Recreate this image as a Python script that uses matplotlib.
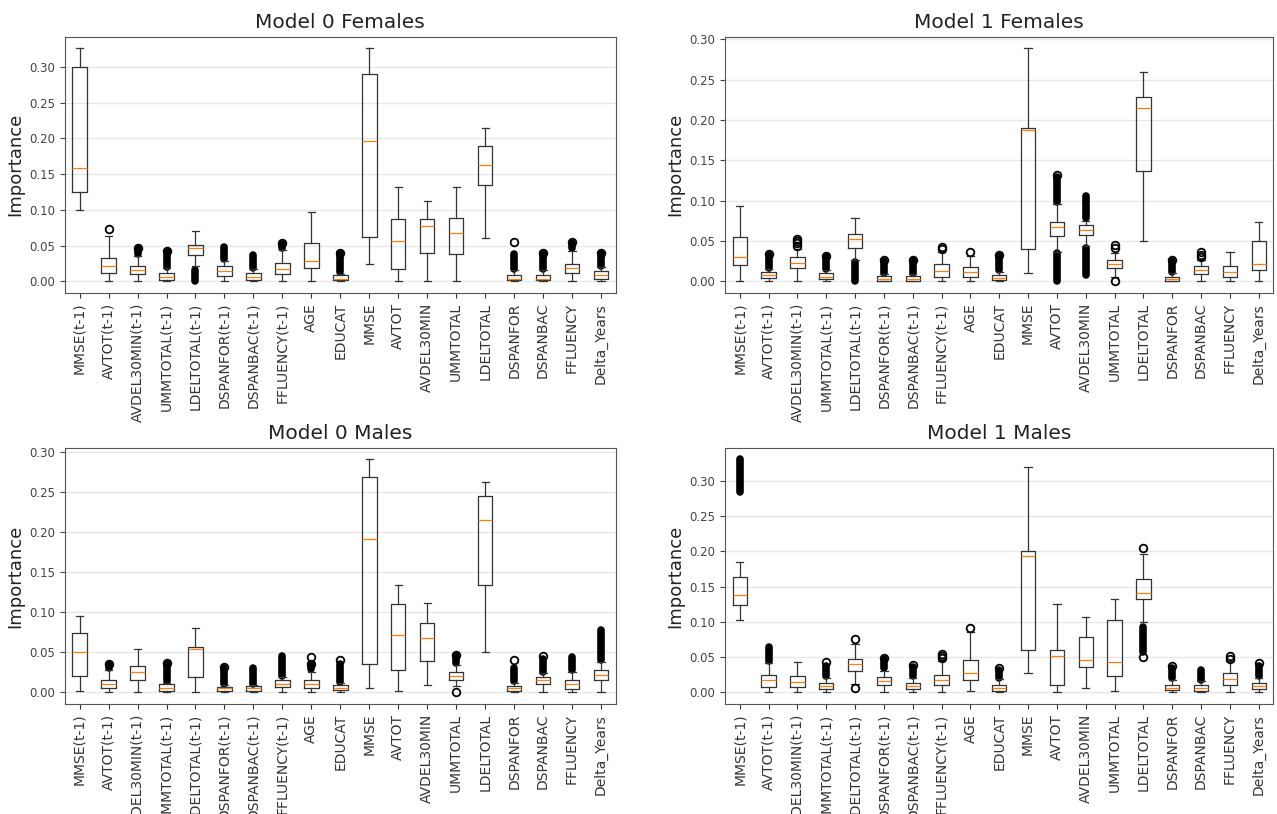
import matplotlib
matplotlib.use("Agg")
import matplotlib.pyplot as plt

# feature importance boxplots, 4 panels (model x sex)

features = ["MMSE(t-1)", "AVTOT(t-1)", "AVDEL30MIN(t-1)", "UMMTOTAL(t-1)", "LDELTOTAL(t-1)",
            "DSPANFOR(t-1)", "DSPANBAC(t-1)", "FFLUENCY(t-1)", "AGE", "EDUCAT", "MMSE", "AVTOT",
            "AVDEL30MIN", "UMMTOTAL", "LDELTOTAL", "DSPANFOR", "DSPANBAC", "FFLUENCY", "Delta_Years"]

titles = ["Model 0 Females", "Model 1 Females", "Model 0 Males", "Model 1 Males"]

# Model 0 Females
f0_lo  = [0.100, 0.0, 0.0, 0.0, 0.022, 0.0, 0.0, 0.0, 0.0, 0.0, 0.024, 0.0, 0.0, 0.0, 0.060, 0.0, 0.0, 0.0, 0.0]
f0_q1  = [0.125, 0.012, 0.010, 0.002, 0.037, 0.008, 0.002, 0.010, 0.019, 0.002, 0.062, 0.018, 0.040, 0.038, 0.135, 0.002, 0.002, 0.012, 0.004]
f0_med = [0.159, 0.021, 0.016, 0.006, 0.046, 0.014, 0.006, 0.017, 0.028, 0.004, 0.196, 0.057, 0.077, 0.067, 0.163, 0.004, 0.004, 0.019, 0.009]
f0_q3  = [0.300, 0.033, 0.022, 0.012, 0.051, 0.021, 0.012, 0.026, 0.053, 0.009, 0.290, 0.087, 0.087, 0.089, 0.190, 0.009, 0.009, 0.025, 0.014]
f0_hi  = [0.326, 0.064, 0.035, 0.019, 0.071, 0.029, 0.018, 0.044, 0.097, 0.011, 0.326, 0.132, 0.112, 0.132, 0.215, 0.016, 0.016, 0.043, 0.020]
f0_fliers = [[], [0.073], [0.047], [0.043], [], [], [], [0.053], [], [0.040],
             [], [], [], [], [], [0.055], [0.040], [0.055], [0.040]]
f0_bands = [[], [], [(0.038, 0.047)], [(0.020, 0.042)], [(0.0, 0.016)], [(0.031, 0.048)], [(0.019, 0.037)],
            [(0.047, 0.052)], [], [(0.013, 0.039)], [], [], [], [], [], [(0.017, 0.038)], [(0.018, 0.039)],
            [(0.046, 0.054)], [(0.022, 0.039)]]

# Model 1 Females
f1_lo  = [0.0, 0.0, 0.0, 0.0, 0.026, 0.0, 0.0, 0.0, 0.0, 0.0, 0.011, 0.037, 0.044, 0.005, 0.050, 0.0, 0.0, 0.0, 0.0]
f1_q1  = [0.020, 0.004, 0.017, 0.003, 0.042, 0.001, 0.001, 0.006, 0.005, 0.002, 0.040, 0.056, 0.058, 0.017, 0.137, 0.001, 0.009, 0.005, 0.014]
f1_med = [0.030, 0.008, 0.023, 0.006, 0.053, 0.003, 0.003, 0.013, 0.012, 0.004, 0.188, 0.068, 0.064, 0.022, 0.215, 0.003, 0.014, 0.012, 0.022]
f1_q3  = [0.055, 0.012, 0.030, 0.011, 0.059, 0.007, 0.007, 0.021, 0.018, 0.008, 0.190, 0.074, 0.070, 0.027, 0.228, 0.006, 0.019, 0.019, 0.050]
f1_hi  = [0.094, 0.015, 0.040, 0.014, 0.078, 0.009, 0.009, 0.036, 0.032, 0.012, 0.289, 0.096, 0.075, 0.035, 0.260, 0.010, 0.026, 0.037, 0.074]
f1_fliers = [[], [0.034], [0.044, 0.047, 0.050, 0.053], [0.032], [], [0.026], [0.027], [0.040, 0.043], [0.036],
             [0.033], [], [0.132], [], [0.0, 0.042, 0.045], [], [0.026], [0.030, 0.033, 0.036], [], []]
f1_bands = [[], [(0.016, 0.033)], [], [(0.015, 0.031)], [(0.0, 0.024)], [(0.010, 0.025)], [(0.010, 0.026)],
            [], [], [(0.014, 0.031)], [], [(0.098, 0.130), (0.0, 0.035)], [(0.078, 0.106), (0.008, 0.041)],
            [], [], [(0.012, 0.025)], [], [], []]

# Model 0 Males
m0_lo  = [0.002, 0.0, 0.0, 0.0, 0.0, 0.0, 0.0, 0.0, 0.0, 0.0, 0.006, 0.002, 0.009, 0.008, 0.050, 0.0, 0.0, 0.0, 0.0]
m0_q1  = [0.021, 0.006, 0.015, 0.002, 0.019, 0.002, 0.002, 0.007, 0.005, 0.003, 0.035, 0.028, 0.039, 0.016, 0.134, 0.002, 0.010, 0.004, 0.015]
m0_med = [0.050, 0.010, 0.025, 0.005, 0.054, 0.005, 0.005, 0.011, 0.010, 0.006, 0.191, 0.072, 0.068, 0.020, 0.215, 0.005, 0.015, 0.010, 0.022]
m0_q3  = [0.074, 0.015, 0.033, 0.010, 0.057, 0.007, 0.008, 0.016, 0.015, 0.009, 0.269, 0.110, 0.087, 0.025, 0.245, 0.008, 0.019, 0.015, 0.028]
m0_hi  = [0.096, 0.028, 0.054, 0.012, 0.081, 0.009, 0.009, 0.019, 0.025, 0.012, 0.291, 0.134, 0.112, 0.034, 0.263, 0.012, 0.024, 0.026, 0.038]
m0_fliers = [[], [0.036], [], [0.037], [], [0.032], [], [], [0.035, 0.044], [0.040],
             [], [], [], [0.001, 0.047], [], [0.040], [0.045], [], []]
m0_bands = [[], [(0.030, 0.035)], [], [(0.014, 0.036)], [], [(0.010, 0.031)], [(0.010, 0.031)], [(0.021, 0.046)],
            [(0.029, 0.035)], [(0.013, 0.036)], [], [], [], [(0.037, 0.045)], [], [(0.014, 0.030)],
            [(0.026, 0.042)], [(0.028, 0.044)], [(0.040, 0.078)]]

# Model 1 Males
m1_lo  = [0.102, 0.0, 0.0, 0.0, 0.012, 0.0, 0.0, 0.0, 0.002, 0.0, 0.027, 0.001, 0.007, 0.002, 0.100, 0.0, 0.0, 0.0, 0.0]
m1_q1  = [0.124, 0.008, 0.008, 0.005, 0.031, 0.010, 0.005, 0.010, 0.017, 0.002, 0.060, 0.010, 0.036, 0.024, 0.132, 0.003, 0.002, 0.011, 0.005]
m1_med = [0.138, 0.017, 0.015, 0.009, 0.040, 0.016, 0.009, 0.017, 0.028, 0.006, 0.193, 0.052, 0.046, 0.043, 0.141, 0.006, 0.006, 0.019, 0.009]
m1_q3  = [0.163, 0.025, 0.023, 0.013, 0.048, 0.022, 0.014, 0.025, 0.046, 0.011, 0.200, 0.060, 0.079, 0.102, 0.160, 0.011, 0.011, 0.027, 0.014]
m1_hi  = [0.185, 0.042, 0.043, 0.021, 0.068, 0.031, 0.021, 0.045, 0.085, 0.019, 0.319, 0.125, 0.107, 0.132, 0.196, 0.018, 0.016, 0.045, 0.020]
m1_fliers = [[], [], [], [0.043], [0.006, 0.076], [0.049], [0.039], [0.049, 0.052, 0.055], [0.091], [0.034],
             [], [], [], [], [0.205, 0.050], [0.038], [], [0.048, 0.051], [0.041]]
m1_bands = [[(0.284, 0.330)], [(0.044, 0.065)], [], [(0.023, 0.037)], [], [(0.035, 0.047)], [(0.024, 0.036)],
            [], [], [(0.021, 0.032)], [], [], [], [], [(0.057, 0.092)], [(0.021, 0.034)], [(0.018, 0.032)],
            [], [(0.023, 0.038)]]

panels = [
    (f0_lo, f0_q1, f0_med, f0_q3, f0_hi, f0_fliers, f0_bands),
    (f1_lo, f1_q1, f1_med, f1_q3, f1_hi, f1_fliers, f1_bands),
    (m0_lo, m0_q1, m0_med, m0_q3, m0_hi, m0_fliers, m0_bands),
    (m1_lo, m1_q1, m1_med, m1_q3, m1_hi, m1_fliers, m1_bands),
]

# axes rectangles in figure fraction (left, bottom, width, height)
rects = [
    [0.051, 0.640, 0.431, 0.315],
    [0.568, 0.640, 0.429, 0.315],
    [0.051, 0.135, 0.431, 0.315],
    [0.568, 0.135, 0.429, 0.315],
]

edge = "#333333"

fig = plt.figure(figsize=(12.77, 8.14), dpi=100)

for p in range(4):
    lo, q1, med, q3, hi, fliers, bands = panels[p]
    ax = fig.add_axes(rects[p])

    stats = []
    for i in range(len(features)):
        stats.append({"whislo": lo[i], "q1": q1[i], "med": med[i], "q3": q3[i],
                      "whishi": hi[i], "fliers": fliers[i], "label": features[i]})
    pos = list(range(1, len(features) + 1))

    # dense runs of outliers look like solid black columns
    for i in range(len(bands)):
        for (a, b) in bands[i]:
            ax.plot([pos[i], pos[i]], [a, b], color="black", lw=5.5,
                    solid_capstyle="round", zorder=2)

    ax.bxp(stats, positions=pos,
           boxprops={"color": edge, "linewidth": 0.9},
           whiskerprops={"color": edge, "linewidth": 0.9},
           capprops={"color": edge, "linewidth": 0.9},
           medianprops={"color": "#ff7f0e", "linewidth": 0.9},
           flierprops={"marker": "o", "markersize": 5.5, "markerfacecolor": "none",
                       "markeredgecolor": "black", "markeredgewidth": 1.3})

    ax.set_title(titles[p], fontsize=14.5, color="#222222")
    ax.set_ylabel("Importance", fontsize=13, color="#222222")
    ax.tick_params(axis="x", labelrotation=90, labelsize=10, colors="#333333")
    ax.tick_params(axis="y", labelsize=8.5, colors="#444444")
    ax.yaxis.grid(True, color="#e8e8e8", linewidth=1)
    ax.set_axisbelow(True)
    for s in ax.spines.values():
        s.set_color("#555555")

fig.savefig("out.png", dpi=100)
